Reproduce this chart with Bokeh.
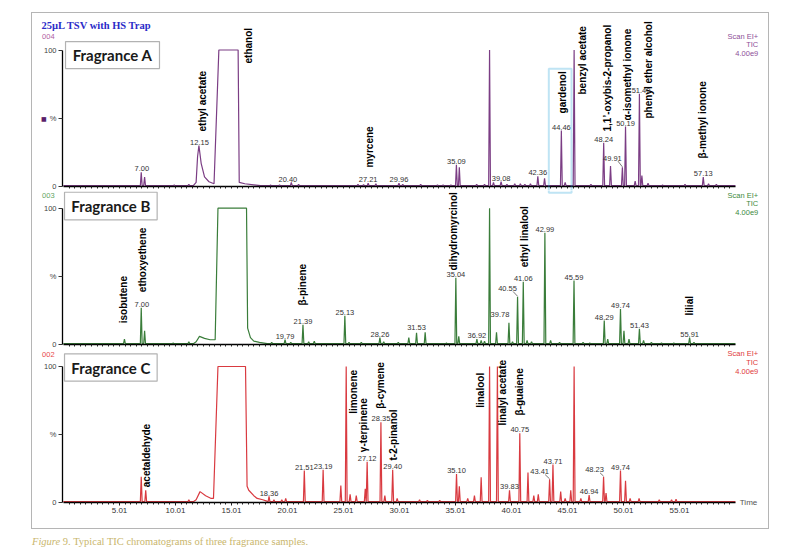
import numpy as np
from bokeh.plotting import figure
from bokeh.models import (FixedTicker, Label, BoxAnnotation, Div, ColumnDataSource, Range1d)
from bokeh.layouts import column
from bokeh.embed import file_html
from bokeh.resources import INLINE
from bokeh.core.properties import value

# ---------------- DATA ----------------
# Fragrance A: narrow peaks (retention time, min ; height, %)
a_rt = [6.95, 7.25, 9.9, 11.2, 18.5, 19.3, 20.35, 21.0, 26.3, 26.8, 27.21, 27.9, 29.96, 30.3, 31.9,
        33.4, 33.9, 34.6, 35.09, 35.35, 36.9, 37.6, 38.05, 38.4, 39.08, 39.6, 40.3, 40.8, 41.2,
        41.7, 42.36, 42.96, 44.46, 44.8, 45.6, 47.1, 48.24, 48.85, 49.91, 50.19, 51.05, 51.43,
        51.65, 52.2, 53.5, 55.5, 57.13, 57.6, 58.3]
a_h = [10.5, 7, 1.2, 1.5, 1.0, 1.2, 3, 1.5, 1.5, 1.3, 2.5, 2, 2.5, 1.5, 1.5,
       1.2, 1.2, 1.2, 16, 14, 1.5, 1.5, 100, 3, 3.5, 1.5, 2, 2, 1.5,
       2, 7.5, 6, 41, 3, 100, 1.5, 32, 15, 14, 44, 4, 68,
       8, 2.5, 1, 1.5, 7, 2, 1.5]
# solvent region (ethyl acetate + saturated ethanol)
a_sol_t = [11.6, 11.85, 11.98, 12.1, 12.3, 12.6, 13.0, 13.45, 13.88, 15.6, 15.7, 16.2, 17.0, 17.6]
a_sol_y = [0.6, 3, 22, 30, 17, 7, 3.5, 2, 100, 100, 3, 2, 1.2, 0.6]
a_names = ["ethyl acetate", "ethanol", "myrcene", "gardenol", "benzyl acetate",
           "1,1\u2019-oxybis-2-propanol", "\u03b1-isomethyl ionone", "phenyl ether alcohol",
           "\u03b2-methyl ionone"]
a_nums = ["7.00", "12.15", "20.40", "27.21", "29.96", "35.09", "39.08", "42.36", "44.46",
          "48.24", "49.91", "50.19", "51.40", "57.13"]

# Fragrance B
b_rt = [5.45, 6.95, 7.25, 9.8, 11.2, 18.6, 19.79, 20.3, 21.39, 21.9, 22.4, 25.13, 25.5, 26.6,
        28.26, 28.6, 29.9, 30.84, 31.53, 32.3, 34.2, 35.04, 35.3, 36.92, 37.3, 37.6, 38.05,
        38.67, 39.78, 40.1, 40.55, 41.06, 41.4, 41.8, 42.99, 43.5, 44.3, 45.59, 46.4, 47.0,
        48.29, 48.6, 49.74, 50.05, 50.5, 51.43, 51.8, 52.5, 53.4, 54.5, 55.91, 56.3]
b_h = [4, 27, 10, 1, 2, 1.5, 3.5, 1.5, 14.5, 2, 2.5, 21, 1.5, 1.5,
       5, 2, 1.5, 5, 8.5, 9, 1, 49, 6, 4, 3, 2.5, 100,
       9, 16, 2, 35, 46, 3, 2, 82, 3, 1.5, 47, 1.5, 1,
       17.5, 4, 26, 10, 4, 11.5, 3, 1.5, 1.2, 1.2, 5, 1.5]
b_sol_t = [11.6, 11.85, 12.15, 12.6, 13.1, 13.55, 13.8, 16.35, 16.45, 16.7, 17.0, 17.5, 18.2]
b_sol_y = [0.6, 2, 6, 4.5, 3.5, 3.5, 100, 100, 12, 5, 2.5, 1.5, 0.6]
b_names = ["isobutene", "ethoxyethene", "\u03b2-pinene", "dihydromyrcinol", "ethyl linalool", "lilial"]
b_nums = ["7.00", "19.79", "21.39", "25.13", "28.26", "31.53", "35.04", "36.92", "39.78",
          "40.55", "41.06", "42.99", "45.59", "48.29", "49.74", "51.43", "55.91"]

# Fragrance C
c_rt = [6.95, 7.35, 11.2, 18.36, 18.8, 19.5, 19.85, 21.51, 23.19, 24.77, 25.25, 25.6, 26.15,
        26.95, 27.12, 28.35, 28.7, 29.40, 29.8, 31.8, 32.5, 33.6, 35.10, 35.35, 36.1, 36.7,
        37.3, 38.05, 38.75, 39.83, 40.75, 41.48, 42.0, 42.4, 43.41, 43.71, 44.4, 44.8, 45.3,
        45.6, 46.2, 46.94, 48.23, 48.45, 49.74, 50.19, 50.6, 51.4, 53.2, 54.3, 54.7]
c_h = [19, 9, 2, 4.5, 2, 2, 3, 23.5, 24, 12.5, 100, 6, 5,
       10, 30, 59, 5, 24, 3, 2, 1.5, 1.5, 21, 12, 3, 5,
       18.5, 100, 100, 9, 51, 22, 5, 6, 17, 28, 8, 3, 9,
       100, 3, 5.5, 19, 7, 23.5, 16, 3, 3, 2, 2, 2.5]
c_sol_t = [11.6, 11.85, 12.2, 12.7, 13.2, 13.4, 13.8, 16.26, 16.4, 16.55, 17.0, 17.3, 17.8, 18.1]
c_sol_y = [0.6, 2, 8, 5, 3, 3, 100, 100, 12, 9, 5, 3, 2, 1.2]
c_names = ["acetaldehyde", "limonene", "\u03b3-terpinene", "\u03b2-cymene", "t-2-pinanol",
           "linalool", "linalyl acetate", "\u03b2-guaiene"]
c_nums = ["18.36", "21.51", "23.19", "27.12", "28.35", "29.40", "35.10", "39.83", "40.75",
          "43.41", "43.71", "46.94", "48.23", "49.74"]

x_tick_vals = [5.01, 10.01, 15.01, 20.01, 25.01, 30.01, 35.01, 40.01, 45.01, 50.01, 55.01]
x_tick_text = ["5.01", "10.01", "15.01", "20.01", "25.01", "30.01", "35.01", "40.01", "45.01", "50.01", "55.01"]
side_text = ["Scan EI+", "TIC", "4.00e9"]

# ---------------- LAYOUT (label placement, not data) ----------------
a_name_pos = ([12.42, 16.53, 27.29, 44.54, 46.32, 48.61, 50.34, 52.27, 57.04],
              [40.3, 90.1, 13.9, 53.5, 67.4, 40.3, 48.4, 49.8, 20.5])
b_name_pos = ([5.39, 7.09, 21.35, 34.86, 41.17, 55.93],
              [15.6, 38.4, 28.6, 54.3, 56.7, 21.3])
c_name_pos = ([7.39, 25.93, 26.82, 28.31, 29.5, 37.24, 39.18, 40.72],
              [11.25, 65.2, 37.0, 68.9, 30.9, 69.6, 56.6, 64.0])
a_off = {"20.40": (-4, 0), "49.91": (-10, 6), "51.40": (2, 0)}
b_off = {"39.78": (-9, 4.5), "40.55": (-10, 5), "31.53": (0, 2)}
c_off = {"43.41": (-10, 4.5), "48.23": (-9, 3.5)}
a_lead = ["49.91"]
b_lead = ["40.55"]
c_lead = ["43.41", "48.23"]

PXM = 11.2              # px per minute
FIG_W = 736
X_START = -2.759        # figure left edge in minutes
X_END = X_START + FIG_W / PXM
W = 0.08                # half width of narrow peaks
BASE = 0.6


def build_trace(rt, h, sol_t, sol_y):
    groups = [[(t - W, BASE), (t, v), (t + W, BASE)] for t, v in zip(rt, h)]
    groups.append(list(zip(sol_t, sol_y)))
    groups.sort(key=lambda g: g[0][0])
    xs, ys = [0.0], [BASE]
    for g in groups:
        for t, v in g:
            xs.append(t)
            ys.append(v)
    xs.append(60.0)
    ys.append(BASE)
    return np.array(xs), np.array(ys)


def panel(rt, h, sol_t, sol_y, color, fig_h, k, px_below, show_x_labels,
          names, name_pos, nums, offs, leads, tag, tag_color, tag_y, frag, box,
          side_color, side_y):
    y_start = -px_below / k
    y_end = y_start + fig_h / k
    p = figure(width=FIG_W, height=fig_h,
               x_range=Range1d(X_START, X_END), y_range=Range1d(y_start, y_end),
               output_backend="svg", toolbar_location=None,
               min_border_left=0, min_border_right=0, min_border_top=0, min_border_bottom=0)
    p.outline_line_color = None
    p.grid.visible = False
    p.background_fill_color = "white"
    p.border_fill_color = "white"

    xs, ys = build_trace(rt, h, sol_t, sol_y)
    p.line(xs, ys, line_color=color, line_width=1.2)

    # y axis, drawn at t = 0
    ya = p.yaxis[0]
    ya.fixed_location = -0.08
    ya.ticker = FixedTicker(ticks=[0, 50, 100])
    ya.major_label_overrides = {0: "0", 50: "%", 100: "100"}
    ya.bounds = (0, 100)
    ya.minor_tick_line_color = None
    ya.major_tick_out = 4
    ya.major_tick_in = 0
    ya.major_label_standoff = 2
    ya.major_label_text_font = "Liberation Sans"
    ya.major_label_text_font_size = "7.5px"
    ya.major_label_text_color = "#444444"
    ya.axis_line_width = 1.3
    ya.major_tick_line_color = "#333333"

    # x axis, drawn at 0 %
    xa = p.xaxis[0]
    xa.fixed_location = 0
    minor = [round(0.01 + 0.5 * i, 2) for i in range(1, 120)]
    minor = [m for m in minor if m not in x_tick_vals]
    xa.bounds = (0, 60)
    xa.axis_line_width = 1.3
    xa.major_tick_in = 0
    xa.minor_tick_in = 0
    xa.major_tick_out = 3
    xa.minor_tick_out = 2
    xa.major_tick_line_color = "#222222"
    xa.minor_tick_line_color = "#222222"
    if show_x_labels:
        xa.ticker = FixedTicker(ticks=x_tick_vals, minor_ticks=minor)
        xa.major_label_overrides = {v: t for v, t in zip(x_tick_vals, x_tick_text)}
        xa.major_label_text_font = "Liberation Sans"
        xa.major_label_text_font_size = "8px"
        xa.major_label_text_color = "#333333"
        xa.major_label_standoff = 2
    else:
        xa.ticker = FixedTicker(ticks=[], minor_ticks=sorted(minor + x_tick_vals))

    # compound names (rotated)
    src = ColumnDataSource(dict(x=name_pos[0], y=name_pos[1], text=names))
    p.text(x="x", y="y", text="text", source=src, angle=np.pi / 2,
           text_font=value("Liberation Sans"), text_font_style="bold",
           text_font_size=value("10px"), text_align="left", text_baseline="middle",
           text_color="black")

    # retention time labels
    lx, ly, lt = [], [], []
    for s in nums:
        t = float(s)
        mask = np.abs(xs - t) <= 0.2
        top = ys[mask].max()
        dx, dy = offs.get(s, (0, 0))
        lx.append(t + dx / PXM)
        ly.append(top + 0.6 + dy / k)
        lt.append(s)
        if s in leads:
            p.segment(x0=[t + dx / PXM + 5.5 / PXM], y0=[top + 0.6 + dy / k - 0.5 / k],
                      x1=[t], y1=[top + 0.4], line_color="#555555", line_width=0.8)
    p.text(x=lx, y=ly, text=lt, text_font=value("Liberation Sans"),
           text_font_size=value("7.5px"), text_align="center", text_baseline="bottom",
           text_color="#333333")

    # tag (004 etc)
    p.add_layout(Label(x=-1.9, y=tag_y, text=tag, text_color=tag_color,
                       text_font="Liberation Sans", text_font_size="7.5px",
                       text_align="left", text_baseline="middle"))
    # right side header texts
    for s, yy in zip(side_text, side_y):
        p.add_layout(Label(x=62.04, y=yy, text=s, text_color=side_color,
                           text_font="Liberation Sans", text_font_size="7.5px",
                           text_align="right", text_baseline="middle"))
    # Fragrance box
    l, r, t_, b_ = box
    p.add_layout(BoxAnnotation(left=l, right=r, top=t_, bottom=b_, fill_color="white",
                               fill_alpha=1.0, line_color="black", line_width=1.2))
    p.add_layout(Label(x=(l + r) / 2, y=(t_ + b_) / 2, text=frag, text_font="Lato",
                       text_font_style="bold", text_font_size="15px", text_color="#1a1a1a",
                       text_align="center", text_baseline="middle"))
    return p


pA = panel(a_rt, a_h, a_sol_t, a_sol_y, "#7b3d84", 177, 1.365, 4, False,
           a_names, a_name_pos, a_nums, a_off, a_lead, "004", "#b0609f", 109.9,
           "Fragrance A", (0.19, 8.58, 106.2, 86.4), "#8e4f98", [109.9, 103.8, 97.4])
pB = panel(b_rt, b_h, b_sol_t, b_sol_y, "#3a7d3a", 160, 1.363, 6, False,
           b_names, b_name_pos, b_nums, b_off, b_lead, "003", "#5fa55f", 109.3,
           "Fragrance B", (0.10, 8.37, 111.7, 91.5), "#3d8b3d", [109.3, 103.2, 96.8])
pC = panel(c_rt, c_h, c_sol_t, c_sol_y, "#d93a40", 178, 1.36, 26, True,
           c_names, c_name_pos, c_nums, c_off, c_lead, "002", "#e8474b", 108.8,
           "Fragrance C", (0.10, 8.37, 109.3, 89.2), "#e03a3a", [109.6, 102.9, 96.3])

# extras
pA.add_layout(Label(x=-1.96, y=117.9, text="25\u00b5L TSV with HS Trap", text_color="#2b2bc8",
                    text_font="Liberation Serif", text_font_style="bold", text_font_size="10.5px",
                    text_align="left", text_baseline="middle"))
pA.add_layout(Label(x=-1.75, y=49.6, text="\u25a0", text_color="#5b1f6b",
                    text_font="DejaVu Sans", text_font_size="6px",
                    text_align="center", text_baseline="middle"))
pA.add_layout(BoxAnnotation(left=43.34, right=45.37, top=86.2, bottom=-4.6, fill_alpha=0,
                            line_color="#2aa6dc", line_width=2))
pB.add_layout(BoxAnnotation(left=43.34, right=45.37, top=115.9, bottom=111.3, fill_alpha=0,
                            line_color="#2aa6dc", line_width=2))
pC.add_layout(Label(x=60.39, y=0, text="Time", text_color="#555555", text_font="Liberation Sans",
                    text_font_size="8px", text_align="left", text_baseline="middle"))

box = column(pA, pB, pC, spacing=0, margin=(12, 0, 0, 31),
             styles={"border": "1px solid #b5b5b5"})
cap = Div(text='<span style="font-family:\'Liberation Serif\';font-size:10.5px;color:#c9b66c;'
               'white-space:nowrap;position:relative;top:4px;"><i>Figure</i> 9. Typical TIC '
               'chromatograms of three fragrance samples.</span>',
          width=400, height=15, margin=(0, 0, 0, 32))
layout = column(box, cap, spacing=0)

open("out.html", "w").write(file_html(layout, INLINE, title="TIC chromatograms"))
